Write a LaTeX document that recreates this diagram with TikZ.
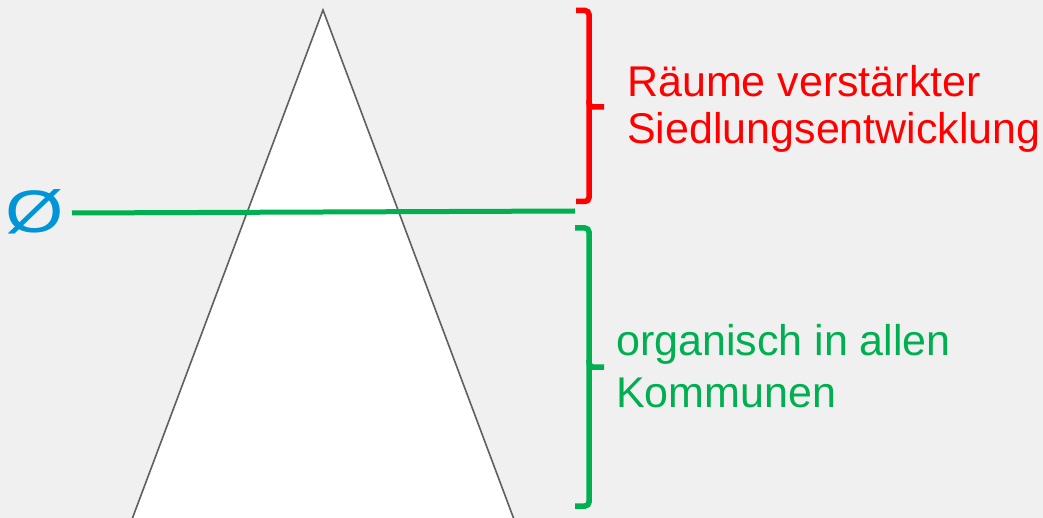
\documentclass[tikz,border=0pt]{standalone}
\usepackage{fontspec}
\setmainfont{Liberation Sans}
\definecolor{bg}{HTML}{F0F0F0}
\definecolor{myred}{HTML}{FF0000}
\definecolor{mygreen}{HTML}{00B050}
\definecolor{myblue}{HTML}{0095D6}
\definecolor{edge}{HTML}{606060}
\begin{document}
\begin{tikzpicture}[x=1pt,y=-1pt,
  lbl/.style={anchor=base west,inner sep=0pt,font=\fontsize{43}{46}\selectfont},
  bracestyle/.style={line width=5.5pt,rounded corners=4pt,line cap=butt}]
\fill[bg] (0,0) rectangle (1043,518);
\useasboundingbox (0,0) rectangle (1043,518);
\begin{scope}
\clip (0,0) rectangle (1043,518);
\draw[edge,fill=white,line width=1.6pt,line join=miter] (323,10) -- (131,522) -- (515,522) -- cycle;
\end{scope}
\node[inner sep=0pt,text=myblue,font=\fontsize{60}{60}\selectfont,xscale=1.25] (phi) at (35,212) {Ø};
\coordinate (lineend) at (575,211);
\draw[mygreen,line width=5pt] (72,213) -- (lineend);
% red brace
\draw[myred,bracestyle] (576,10.5) -- (589,10.5) -- (589,107) -- (604,107);
\draw[myred,bracestyle] (589,100) -- (589,201.5) -- (576,201.5);
% green brace
\draw[mygreen,bracestyle] (575,228) -- (589,228) -- (589,367) -- (604,367);
\draw[mygreen,bracestyle] (589,360) -- (589,506) -- (575,506);
\node[lbl,text=myred] (r1) at (627,97) {Räume verstärkter};
\node[lbl,text=myred] (r2) at (627,143.5) {Siedlungsentwicklung};
\node[lbl,text=mygreen] (g1) at (616,355) {organisch in allen};
\node[lbl,text=mygreen] (g2) at (616,407) {Kommunen};
\end{tikzpicture}
\end{document}
